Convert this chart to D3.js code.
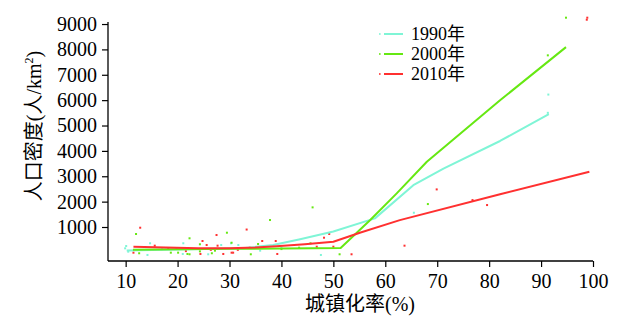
<!DOCTYPE html>
<html>
<head>
<meta charset="utf-8">
<script src="https://cdn.jsdelivr.net/npm/d3@7"></script>
<style>
  html, body { margin: 0; padding: 0; background: #fff; }
  svg { display: block; }
  text { font-family: "Liberation Serif", "Noto Sans CJK SC", serif; fill: #000; }
</style>
</head>
<body>
<svg id="chart" width="640" height="327"></svg>
<script>
// Urbanisation rate (%) vs population density (persons/km²)
const years = ["1990年", "2000年", "2010年"];
const colors = ["#7ff5d6", "#66e812", "#ff3030"];

// fitted trend lines: x = urbanisation rate, y = density
const line1990X = [10.2, 20, 32.6, 38.4, 43.6, 50, 58, 65.4, 71.2, 82.1, 91.5];
const line1990Y = [70, 110, 160, 290, 515, 820, 1340, 2650, 3300, 4390, 5450];
const line2000X = [11.4, 30, 51.4, 57.1, 62.2, 68, 73.1, 82.1, 94.8];
const line2000Y = [100, 140, 170, 1275, 2325, 3570, 4450, 5995, 8090];
const line2010X = [11.5, 24, 30, 35, 39, 44.5, 50, 55.1, 62.8, 82.1, 99.3];
const line2010Y = [225, 160, 160, 190, 240, 320, 420, 775, 1270, 2290, 3180];

// observed cities
const pts1990X = [9.9, 10.1, 10.5, 14.2, 14.7, 17, 21.1, 21, 25.9, 28.4, 30.3, 31.7, 35.9, 36.5, 40, 47.6, 65.5, 91.4, 91.3];
const pts1990Y = [160, 250, 28, -102, 358, 120, 358, -63, -75, 290, 358, 290, 67, 224, 180, -102, 1562, 6220, 5500];
const pts2000X = [12, 12.6, 18.7, 19.8, 20.1, 21.9, 22.3, 22.3, 24.3, 24.3, 26.6, 27.2, 29.5, 30.4, 34.1, 35.5, 37.8, 40, 43.4, 45.6, 46, 51.2, 68.2, 91.3, 94.8];
const pts2000Y = [724, -35, -12, 160, -12, -63, 555, -75, 319, 40, -35, 67, 775, 380, -75, 330, 1275, 130, 185, 358, 1774, -75, 1904, 7766, 9250];
const pts2010X = [11.5, 12.8, 15.6, 18.2, 21.6, 24.4, 24.8, 25.6, 26.4, 27.5, 27.7, 28.8, 30.4, 30.7, 31.6, 33.3, 33.9, 36.3, 38.9, 39.2, 46.8, 48.2, 49.2, 50, 53.5, 63.7, 69.9, 76.8, 79.6, 98.9, 98.8];
const pts2010Y = [-12, 972, 264, 160, 50, -63, 448, 290, 100, 684, 264, -63, -12, -12, 100, 900, 185, 448, 448, -63, 224, 578, 724, 224, -75, 264, 2482, 2061, 1865, 9250, 9170];

const xTicks = [10, 20, 30, 40, 50, 60, 70, 80, 90, 100];
const yTicks = [1000, 2000, 3000, 4000, 5000, 6000, 7000, 8000, 9000];

const lines = [
  { xs: line1990X, ys: line1990Y },
  { xs: line2000X, ys: line2000Y },
  { xs: line2010X, ys: line2010Y }
];
const points = [
  { xs: pts1990X, ys: pts1990Y },
  { xs: pts2000X, ys: pts2000Y },
  { xs: pts2010X, ys: pts2010Y }
];

const svg = d3.select("#chart");
const x = d3.scaleLinear().domain([6.6, 100]).range([108, 593]);
const y = d3.scaleLinear().domain([-340, 9080]).range([261, 22]);

// scatter dots
points.forEach((s, i) => {
  svg.append("g").selectAll("rect")
    .data(s.xs.map((v, j) => [v, s.ys[j]]))
    .join("rect")
    .attr("x", d => x(d[0]) - 1)
    .attr("y", d => y(d[1]) - 1)
    .attr("width", 2)
    .attr("height", 2)
    .attr("fill", colors[i]);
});

// trend lines
const lineGen = d3.line().x(d => x(d[0])).y(d => y(d[1]));
lines.forEach((s, i) => {
  svg.append("path")
    .datum(s.xs.map((v, j) => [v, s.ys[j]]))
    .attr("d", lineGen)
    .attr("fill", "none")
    .attr("stroke", colors[i])
    .attr("stroke-width", 2)
    .attr("stroke-linejoin", "round");
});

// axes
const xAxis = svg.append("g")
  .attr("transform", "translate(0,261)")
  .call(d3.axisBottom(x).tickValues(xTicks).tickSize(6).tickPadding(7).tickFormat(d3.format("d")));
const yAxis = svg.append("g")
  .attr("transform", "translate(108,0)")
  .call(d3.axisLeft(y).tickValues(yTicks).tickSize(6).tickPadding(5).tickFormat(d3.format("d")));

[xAxis, yAxis].forEach(g => {
  g.select(".domain").attr("stroke", "#000").attr("stroke-width", 1.3);
  g.selectAll(".tick line").attr("stroke", "#000").attr("stroke-width", 1.2);
  g.selectAll(".tick text")
    .attr("font-family", "Liberation Serif, serif")
    .attr("font-size", 20)
    .attr("fill", "#000");
});
// x axis line covers the full data range
xAxis.select(".domain").attr("d", "M108,0H593");
yAxis.select(".domain").attr("d", "M0,22V261");

// axis titles
svg.append("text")
  .attr("x", 360)
  .attr("y", 311)
  .attr("text-anchor", "middle")
  .attr("font-size", 20)
  .text("城镇化率(%)");

const yt = svg.append("text")
  .attr("transform", "translate(41,126) rotate(-90)")
  .attr("text-anchor", "middle")
  .attr("font-size", 20);
yt.append("tspan").text("人口密度(人/km");
yt.append("tspan").attr("font-size", 12).attr("dy", -8).text("2");
yt.append("tspan").attr("dy", 8).text(")");

// legend
const legend = svg.append("g");
years.forEach((name, i) => {
  const cy = 34 + i * 20;
  legend.append("rect").attr("x", 379).attr("y", cy - 0.8).attr("width", 1.6).attr("height", 1.6).attr("fill", colors[i]);
  legend.append("line")
    .attr("x1", 384).attr("x2", 403).attr("y1", cy).attr("y2", cy)
    .attr("stroke", colors[i]).attr("stroke-width", 2);
  legend.append("text")
    .attr("x", 411).attr("y", cy + 6.3)
    .attr("font-size", 18)
    .text(name);
});
</script>
</body>
</html>
